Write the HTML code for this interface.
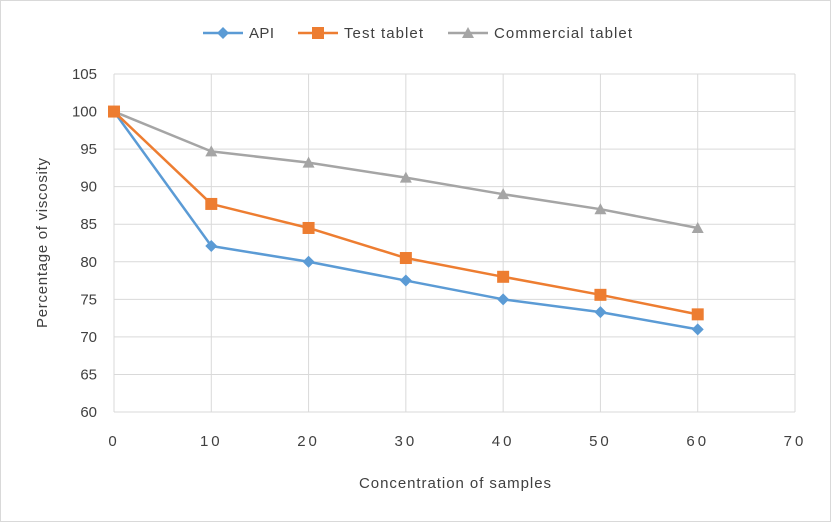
<!DOCTYPE html>
<html><head><meta charset="utf-8"><style>
body{margin:0;background:#fff;}
svg{display:block;font-family:"Liberation Sans",sans-serif;}
</style></head><body>
<svg id="chart" width="831" height="522">
<rect x="0.5" y="0.5" width="830" height="521" fill="#fff" stroke="#d9d9d9"/>
<g id="grid"></g><g id="axes"></g><g id="series"></g>
<g font-size="15" fill="#404040">
 <g>
  <line x1="203" y1="33" x2="243" y2="33" stroke="#5b9bd5" stroke-width="2.5"/>
  <path d="M223 27 L229 33 L223 39 L217 33Z" fill="#5b9bd5"/>
  <text x="249" y="38" textLength="25">API</text></g>
 <g>
  <line x1="298" y1="33" x2="338" y2="33" stroke="#ed7d31" stroke-width="2.5"/>
  <rect x="312" y="27" width="12" height="12" fill="#ed7d31"/>
  <text x="344" y="38" textLength="79">Test tablet</text></g>
 <g>
  <line x1="448" y1="33" x2="488" y2="33" stroke="#a5a5a5" stroke-width="2.5"/>
  <path d="M468 27 L474 38 L462 38Z" fill="#a5a5a5"/>
  <text x="494" y="38" textLength="138">Commercial tablet</text></g>
</g>
<text x="455" y="488" text-anchor="middle" font-size="15" fill="#404040" textLength="192">Concentration of samples</text>
<text transform="translate(47,243) rotate(-90)" text-anchor="middle" font-size="15" fill="#404040" textLength="170">Percentage of viscosity</text>
</svg>
<script>
const xValues=[0,10,20,30,40,50,60];
const apiValues=[100,82.1,80,77.5,75,73.3,71];
const testValues=[100,87.7,84.5,80.5,78,75.6,73];
const commercialValues=[100,94.7,93.2,91.2,89,87,84.5];
const yTicks=[60,65,70,75,80,85,90,95,100,105];
const xTicks=[0,10,20,30,40,50,60,70];

const NS="http://www.w3.org/2000/svg";
const X0=114,X1=795,Y0=412,Y1=74;
const xs=v=>X0+(v-0)/70*(X1-X0);
const ys=v=>Y0-(v-60)/45*(Y0-Y1);
function mk(tag,attrs,parent){const e=document.createElementNS(NS,tag);for(const k in attrs)e.setAttribute(k,attrs[k]);parent.appendChild(e);return e;}
const grid=document.getElementById('grid'),axes=document.getElementById('axes'),ser=document.getElementById('series');
yTicks.forEach(t=>{
 const l=mk('line',{x1:X0,x2:X1,y1:ys(t),y2:ys(t),stroke:'#d9d9d9','stroke-width':1},grid);
 
 
 const tx=mk('text',{x:X0-17,y:ys(t)+5,'text-anchor':'end','font-size':15,fill:'#404040'},axes);
 tx.textContent=t;
 
 
});
xTicks.forEach(t=>{
 const l=mk('line',{x1:xs(t),x2:xs(t),y1:Y1,y2:Y0,stroke:'#d9d9d9','stroke-width':1},grid);
 
 
 const tx=mk('text',{x:xs(t),y:Y0+34,'text-anchor':'middle','font-size':15,fill:'#404040','letter-spacing':'3'},axes);
 tx.textContent=String(t);
 
 
});
function series(vals,color,shape,name){
 const g=mk('g',{},ser);
 
 
 mk('polyline',{points:vals.map((v,i)=>xs(xValues[i])+','+ys(v)).join(' '),fill:'none',stroke:color,'stroke-width':2.5,'stroke-linejoin':'round'},g);
 vals.forEach((v,i)=>{
  const x=xs(xValues[i]),y=ys(v);let m;
  if(shape==='d')m=mk('path',{d:`M${x} ${y-6}L${x+6} ${y}L${x} ${y+6}L${x-6} ${y}Z`,fill:color},g);
  else if(shape==='s')m=mk('rect',{x:x-6,y:y-6,width:12,height:12,fill:color},g);
  else m=mk('path',{d:`M${x} ${y-6}L${x+6} ${y+5}L${x-6} ${y+5}Z`,fill:color},g);
  
  
 });
}
series(commercialValues,'#a5a5a5','t','commercial-tablet-series');
series(apiValues,'#5b9bd5','d','api-series');
series(testValues,'#ed7d31','s','test-tablet-series');
</script>
</body></html>
